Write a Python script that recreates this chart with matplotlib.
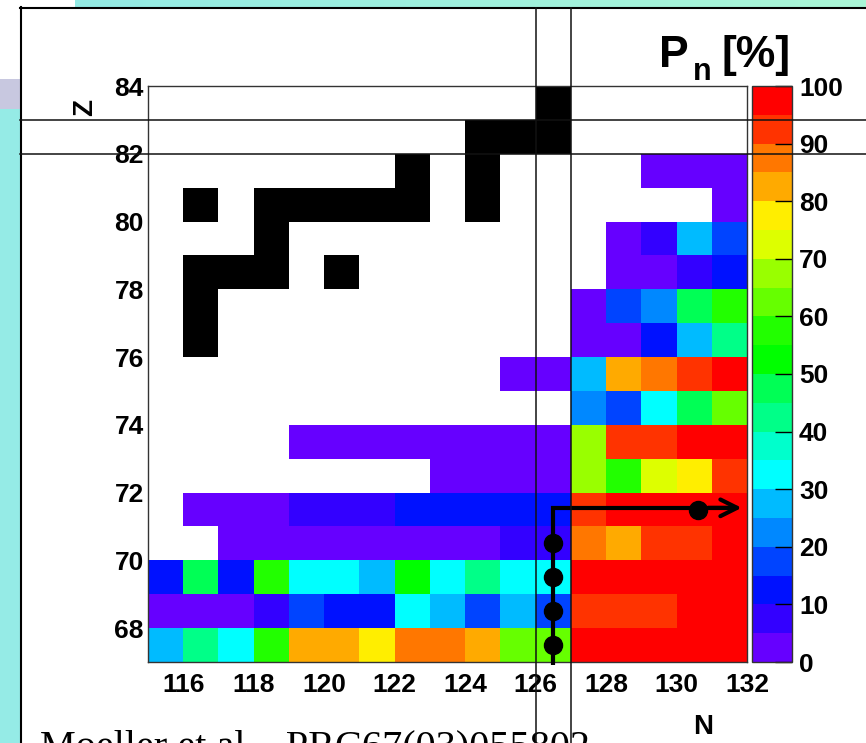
import numpy as np
import matplotlib
matplotlib.use("Agg")
import matplotlib.pyplot as plt
import matplotlib.transforms as mtransforms
from matplotlib.colors import ListedColormap, BoundaryNorm, LinearSegmentedColormap
from matplotlib.patches import Rectangle
from matplotlib.lines import Line2D

W, H = 866, 743

# chart window: neutron number N (columns) and proton number Z (rows)
n_lo, n_hi = 115, 132
z_lo, z_hi = 67, 84

# P_n [%] per isotope chain; every row runs up to N = 131,
# so its first N is 132 - len(row)
pn_z81 = [3, 2, 4]
pn_z80 = [3]
pn_z79 = [3, 8, 27, 17]
pn_z78 = [2, 4, 7, 13]
pn_z77 = [3, 18, 23, 47, 57]
pn_z76 = [2, 4, 12, 28, 42]
pn_z75 = [1, 2, 28, 83, 87, 93, 98]
pn_z74 = [22, 17, 33, 47, 63]
pn_z73 = [2, 1, 3, 2, 1, 2, 3, 2, 68, 92, 93, 97, 99]
pn_z72 = [2, 3, 1, 2, 67, 57, 73, 78, 91]
pn_z71 = [3, 2, 4, 8, 7, 9, 12, 13, 11, 12, 14, 92, 97, 98, 99, 97]
pn_z70 = [2, 3, 1, 2, 4, 3, 2, 3, 8, 7, 88, 82, 93, 92, 98]
pn_z69 = [12, 48, 13, 58, 33, 32, 28, 53, 33, 43, 32, 31, 98, 97, 99, 98, 99]
pn_z68 = [3, 2, 4, 8, 17, 12, 13, 32, 27, 18, 28, 17, 93, 92, 94, 98, 99]
pn_z67 = [28, 43, 33, 58, 83, 82, 77, 88, 87, 83, 62, 63, 98, 99, 97, 98, 99]

pn_rows = {81: pn_z81, 80: pn_z80, 79: pn_z79, 78: pn_z78, 77: pn_z77,
           76: pn_z76, 75: pn_z75, 74: pn_z74, 73: pn_z73, 72: pn_z72,
           71: pn_z71, 70: pn_z70, 69: pn_z69, 68: pn_z68, 67: pn_z67}

# stable nuclei (black squares)
stable_n = [116, 116, 116, 117, 118, 120, 118, 116, 118, 119, 120, 121, 122,
            124, 122, 124, 124, 125, 126, 126]
stable_z = [76, 77, 78, 78, 78, 78, 79, 80, 80, 80, 80, 80, 80,
            80, 81, 81, 82, 82, 82, 83]

# closed shells marked across the slide
magic_n = 126
magic_z = 82

# r-process path drawn on top
path_n = [126.5, 126.5, 131.5]
path_z = [66.9, 71.55, 71.55]
dot_n = [126.5, 126.5, 126.5, 126.5, 130.6]
dot_z = [67.5, 68.5, 69.5, 70.5, 71.5]

pn_ticks = list(range(0, 101, 10))
n_ticks = list(range(116, 133, 2))
z_ticks = list(range(68, 85, 2))

# ROOT-like 20 step rainbow palette
palette = ["#6600ff", "#3300ff", "#0011ff", "#0044ff", "#0088ff", "#00bbff",
           "#00ffff", "#00ffcc", "#00ff88", "#00ff55", "#00ff00", "#22ff00",
           "#66ff00", "#99ff00", "#ddff00", "#ffee00", "#ffaa00", "#ff7700",
           "#ff3300", "#ff0000"]

plt.rcParams["font.family"] = ["Liberation Sans", "DejaVu Sans"]
plt.rcParams["font.weight"] = "bold"
plt.rcParams["axes.labelweight"] = "bold"

n_edges = np.arange(n_lo, n_hi + 1)
z_edges = np.arange(z_lo, z_hi + 1)

grid = np.full((z_hi - z_lo, n_hi - n_lo), np.nan)
for z, row in pn_rows.items():
    first = n_hi - len(row)
    grid[z - z_lo, first - n_lo:] = row

stable = np.full_like(grid, np.nan)
for n, z in zip(stable_n, stable_z):
    stable[z - z_lo, n - n_lo] = 1

fig = plt.figure(figsize=(W / 100, H / 100), dpi=100)

# slide background in pixel units
bg = fig.add_axes([0, 0, 1, 1], zorder=0)
bar_cmap = LinearSegmentedColormap.from_list("bar", ["#93eae4", "#aaf6d6"])
bg.imshow(np.linspace(0, 1, 256)[None, :], cmap=bar_cmap,
          extent=[75, W, 7, 0], aspect="auto")
bg.add_patch(Rectangle((0, 109), 20, H - 109, color="#95ebe6", lw=0))
bg.add_patch(Rectangle((0, 79), 20, 30, color="#c8c8e0", lw=0))
bg.plot([20.5, 20.5], [7, H], color="black", lw=1.5)
bg.plot([20, W], [7.5, 7.5], color="black", lw=1.5)
bg.set_xlim(0, W)
bg.set_ylim(H, 0)
bg.axis("off")

ax = fig.add_axes([148 / W, 1 - 662 / H, (747 - 148) / W, (662 - 86) / H],
                  zorder=2)
cax = fig.add_axes([752 / W, 1 - 662 / H, 40 / W, (662 - 86) / H], zorder=1)

cmap = ListedColormap(palette)
norm = BoundaryNorm(np.arange(0, 101, 5), cmap.N)
mesh = ax.pcolormesh(n_edges, z_edges, np.ma.masked_invalid(grid),
                     cmap=cmap, norm=norm)
ax.pcolormesh(n_edges, z_edges, np.ma.masked_invalid(stable),
              cmap=ListedColormap(["black"]), vmin=0, vmax=1)

ax.set_xlim(n_lo, n_hi)
ax.set_ylim(z_lo, z_hi)
ax.set_xticks(n_ticks)
ax.set_yticks(z_ticks)
ax.tick_params(axis="both", length=0, labelsize=19)
ax.tick_params(axis="x", pad=8)
ax.tick_params(axis="y", pad=3)
for sp in ax.spines.values():
    sp.set_color("#333333")
    sp.set_linewidth(1)

ax.set_xlabel("N", fontsize=20, fontweight="bold", ha="center", va="center")
ax.xaxis.set_label_coords((703 - 148) / 599, -(727 - 662) / 576)
ax.set_ylabel("Z", fontsize=20, fontweight="bold", ha="center", va="center",
              rotation=90)
ax.yaxis.set_label_coords((85 - 148) / 599, (662 - 107) / 576)

# path with waiting points
ax.plot(path_n, path_z, color="black", lw=3, clip_on=False,
        solid_joinstyle="miter", solid_capstyle="butt", zorder=5)
ax.annotate("", xy=(131.85, path_z[-1]), xytext=(130.9, path_z[-1]),
            arrowprops=dict(arrowstyle="->", lw=3, color="black",
                            mutation_scale=30, shrinkA=0, shrinkB=0),
            annotation_clip=False, zorder=5)
ax.plot(dot_n, dot_z, "o", color="black", ms=13, clip_on=False, zorder=6)

# closed shell lines running over the whole slide
tv = mtransforms.blended_transform_factory(ax.transData, fig.transFigure)
th = mtransforms.blended_transform_factory(fig.transFigure, ax.transData)
for n in (magic_n, magic_n + 1):
    ax.add_line(Line2D([n, n], [0, 1 - 7.5 / H], transform=tv, color="#111111",
                       lw=1.1, clip_on=False, zorder=7))
for z in (magic_z, magic_z + 1):
    ax.add_line(Line2D([20 / W, 1], [z, z], transform=th, color="#111111",
                       lw=1.1, clip_on=False, zorder=7))

cb = fig.colorbar(mesh, cax=cax, ticks=pn_ticks)
cb.outline.set_linewidth(1)
cb.outline.set_edgecolor("#333333")
cax.minorticks_off()
cax.tick_params(direction="in", length=12, width=1, labelsize=19, pad=5)

# title and reference
bg.text(659, 67, "P", fontsize=32, va="baseline", ha="left")
bg.text(693, 80, "n", fontsize=22, va="baseline", ha="left")
bg.text(721, 67, "[%]", fontsize=32, va="baseline", ha="left")
bg.text(40, 757, "Moeller et al.,  PRC67(03)055802", fontsize=29,
        fontweight="normal", family=["Liberation Serif", "DejaVu Serif"],
        va="baseline", ha="left")

fig.savefig("out.png", dpi=100)
